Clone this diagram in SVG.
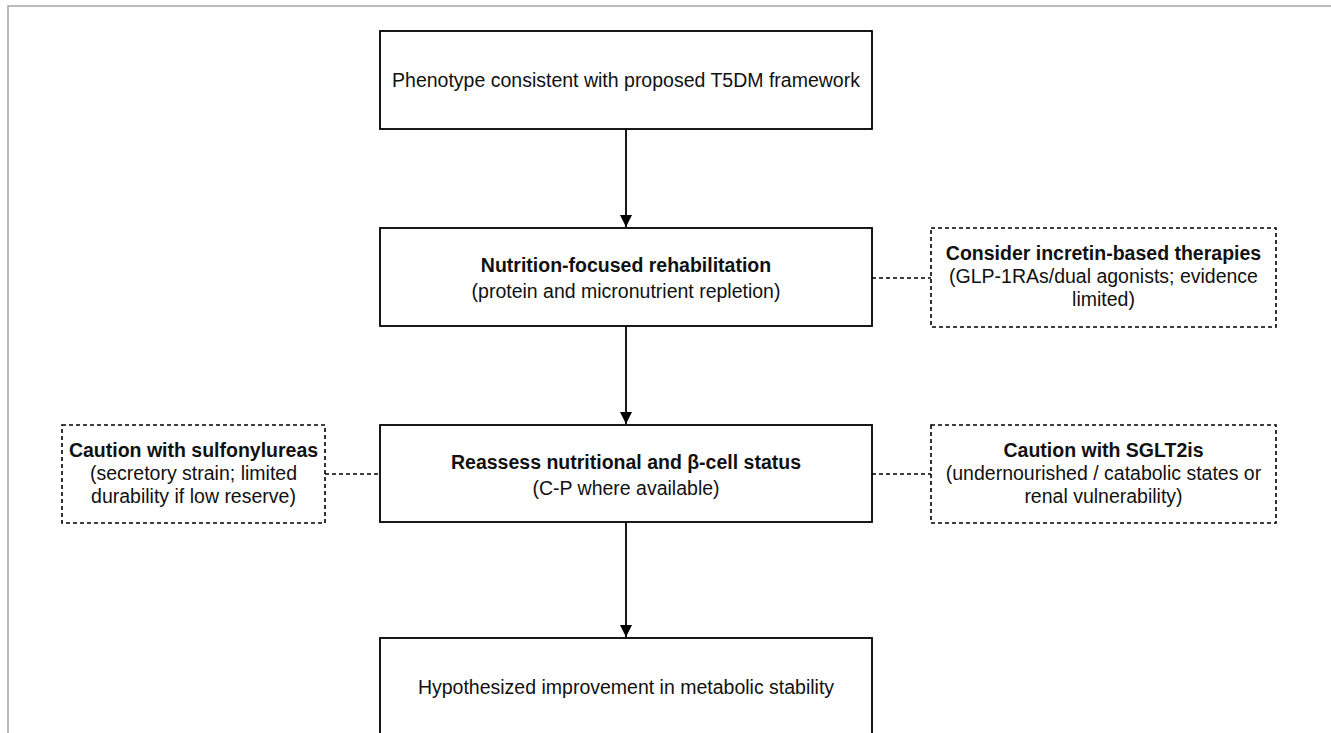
<svg xmlns="http://www.w3.org/2000/svg" width="1331" height="733" viewBox="0 0 1331 733">
<style>
.frame{stroke:#a3a3ad;stroke-width:1.5;fill:none}
.box{fill:#fff;stroke:#000;stroke-width:1.8}
.dbox{fill:#fff;stroke:#000;stroke-width:1.6;stroke-dasharray:4 3}
.t{font-family:"Liberation Sans",Arial,sans-serif;font-size:19.5px;fill:#111;text-anchor:middle}
.b{font-weight:bold}
.line{stroke:#000;stroke-width:1.8;fill:none}
.dash{stroke:#000;stroke-width:1.6;stroke-dasharray:4 3;fill:none}
</style>
<defs>
<marker id="arr" viewBox="0 0 12 12" refX="12" refY="6" markerWidth="12" markerHeight="12" markerUnits="userSpaceOnUse" orient="auto">
<path d="M0,0 L12,6 L0,12 z" fill="#000"/>
</marker>
</defs>
<rect width="1331" height="733" fill="#fff"/>
<path class="frame" d="M8,733 L8,6 L1331,6"/>
<g id="connectors">
<line class="line" x1="626" y1="129" x2="626" y2="227" marker-end="url(#arr)"/>
<line class="line" x1="626" y1="326" x2="626" y2="424" marker-end="url(#arr)"/>
<line class="line" x1="626" y1="522" x2="626" y2="637" marker-end="url(#arr)"/>
<line class="dash" x1="872" y1="278" x2="931" y2="278"/>
<line class="dash" x1="325" y1="474" x2="380" y2="474"/>
<line class="dash" x1="872" y1="474" x2="931" y2="474"/>
</g>
<g id="n1">
<rect class="box" x="380" y="31" width="492" height="98"/>
<text class="t" x="626" y="87">Phenotype consistent with proposed T5DM framework</text>
</g>
<g id="n2">
<rect class="box" x="380" y="228" width="492" height="98"/>
<text class="t b" x="626" y="272">Nutrition-focused rehabilitation</text>
<text class="t" x="626" y="298">(protein and micronutrient repletion)</text>
</g>
<g id="n3">
<rect class="dbox" x="931" y="228" width="345" height="99"/>
<text class="t b" x="1103.5" y="260">Consider incretin-based therapies</text>
<text class="t" x="1103.5" y="283">(GLP-1RAs/dual agonists; evidence</text>
<text class="t" x="1103.5" y="306">limited)</text>
</g>
<g id="n4">
<rect class="dbox" x="62" y="425" width="263" height="98"/>
<text class="t b" x="193.5" y="457">Caution with sulfonylureas</text>
<text class="t" x="193.5" y="480">(secretory strain; limited</text>
<text class="t" x="193.5" y="503">durability if low reserve)</text>
</g>
<g id="n5">
<rect class="box" x="380" y="425" width="492" height="97"/>
<text class="t b" x="626" y="469">Reassess nutritional and β-cell status</text>
<text class="t" x="626" y="495">(C-P where available)</text>
</g>
<g id="n6">
<rect class="dbox" x="931" y="425" width="345" height="98"/>
<text class="t b" x="1103.5" y="457">Caution with SGLT2is</text>
<text class="t" x="1103.5" y="480">(undernourished / catabolic states or</text>
<text class="t" x="1103.5" y="503">renal vulnerability)</text>
</g>
<g id="n7">
<rect class="box" x="380" y="638" width="492" height="110"/>
<text class="t" x="626" y="694">Hypothesized improvement in metabolic stability</text>
</g>
</svg>
